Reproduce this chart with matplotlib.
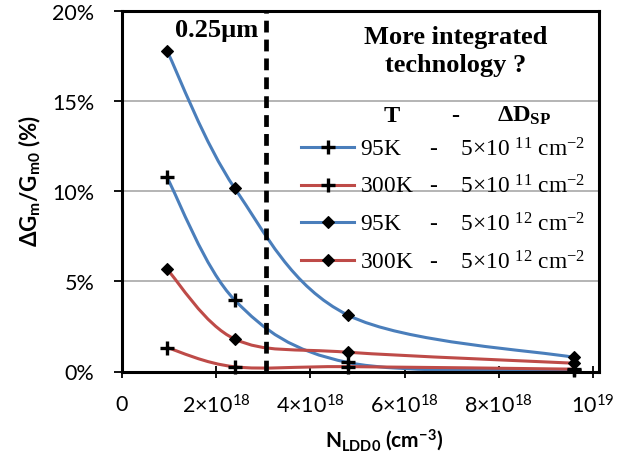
import matplotlib
matplotlib.use("Agg")
import matplotlib.pyplot as plt
from matplotlib.path import Path
from matplotlib.patches import PathPatch
from matplotlib.lines import Line2D

# LDD doping concentration (cm^-3)
n_ldd0 = [0.96e18, 2.4e18, 4.8e18, 9.6e18]

# relative transconductance degradation dGm/Gm0 (%)
dgm_95k_5e11 = [10.78, 3.96, 0.50, 0.06]
dgm_300k_5e11 = [1.33, 0.26, 0.27, 0.13]
dgm_95k_5e12 = [17.81, 10.17, 3.13, 0.78]
dgm_300k_5e12 = [5.68, 1.80, 1.07, 0.46]

temperatures = ["95K", "300K", "95K", "300K"]
densities = ["5×10 $^{11}$ cm$^{-2}$", "5×10 $^{11}$ cm$^{-2}$",
             "5×10 $^{12}$ cm$^{-2}$", "5×10 $^{12}$ cm$^{-2}$"]

x_ticks = [0, 2e18, 4e18, 6e18, 8e18, 1e19]
x_tick_labels = ["0", "2×10$^{18}$", "4×10$^{18}$", "6×10$^{18}$",
                 "8×10$^{18}$", "10$^{19}$"]
y_ticks = [0, 5, 10, 15, 20]
y_tick_labels = ["0%", "5%", "10%", "15%", "20%"]

gate_length_limit = 3.07e18   # 0.25 µm node

BLUE = "#4A7EBB"
RED = "#BE4B48"

plt.rcParams["mathtext.default"] = "regular"
SANS = "Lato"
SERIF = "Liberation Serif"

W, H = 642, 456
fig = plt.figure(figsize=(W / 100, H / 100), dpi=100)


def fx(px):
    return px / W


def fy(py):
    return 1 - py / H


ax = fig.add_axes([fx(121.7), fy(372.5), fx(598.5) - fx(121.7),
                   fy(12.3) - fy(372.5)])
ax.set_xlim(0, 1.0115e19)
ax.set_ylim(0, 20)


def smooth_path(xs, ys):
    """Cubic Bezier through the points (Catmull-Rom style tangents)."""
    pts = list(zip(xs, ys))
    n = len(pts)
    verts = [pts[0]]
    codes = [Path.MOVETO]
    for i in range(n - 1):
        p0 = pts[i - 1] if i > 0 else pts[i]
        p1 = pts[i]
        p2 = pts[i + 1]
        p3 = pts[i + 2] if i + 2 < n else pts[i + 1]
        c1 = (p1[0] + (p2[0] - p0[0]) / 6, p1[1] + (p2[1] - p0[1]) / 6)
        c2 = (p2[0] - (p3[0] - p1[0]) / 6, p2[1] - (p3[1] - p1[1]) / 6)
        verts += [c1, c2, p2]
        codes += [Path.CURVE4] * 3
    return Path(verts, codes)


series = [
    (dgm_95k_5e11, BLUE, "+"),
    (dgm_300k_5e11, RED, "+"),
    (dgm_95k_5e12, BLUE, "D"),
    (dgm_300k_5e12, RED, "D"),
]

LW = 2.2
marker_kw = {
    "+": dict(marker="+", markersize=9.5, markeredgewidth=2.4,
              markeredgecolor="black"),
    "D": dict(marker="D", markersize=6.5, markeredgewidth=0.8,
              markerfacecolor="black", markeredgecolor="black"),
}

for ys, color, mk in series:
    patch = PathPatch(smooth_path(n_ldd0, ys), facecolor="none",
                      edgecolor=color, lw=LW, zorder=3, clip_on=False,
                      capstyle="butt")
    ax.add_patch(patch)
for ys, color, mk in series:
    ax.plot(n_ldd0, ys, linestyle="none", zorder=5, clip_on=False,
            **marker_kw[mk])

# gate length marker
ax.axvline(gate_length_limit, color="black", lw=3.4,
           linestyle=(0, (2.5, 1.5)), zorder=4)

# axes styling
ax.set_xticks(x_ticks)
ax.set_xticklabels(x_tick_labels)
ax.set_yticks(y_ticks)
ax.set_yticklabels(y_tick_labels)
ax.yaxis.grid(True, color="#a0a0a0", lw=1.1)
ax.set_axisbelow(True)
for sp in ax.spines.values():
    sp.set_linewidth(2.2)
    sp.set_color("black")
    sp.set_zorder(6)
ax.tick_params(axis="y", direction="out", length=6, width=1.3,
               pad=13.5, labelsize=15.5)
ax.tick_params(axis="x", direction="inout", length=8, width=1.3,
               pad=12, labelsize=15.5)
for lbl in ax.get_xticklabels() + ax.get_yticklabels():
    lbl.set_fontfamily(SANS)

# axis titles
fig.text(fx(384), fy(440), "N$_{LDD0}$ (cm$^{-3}$)", ha="center",
         va="center", fontsize=15, fontweight="bold", family=SANS)
fig.text(fx(30), fy(181), "ΔG$_{m}$/G$_{m0}$ (%)", ha="center",
         va="center", rotation=90, fontsize=16, fontweight="bold",
         family=SANS)

# annotations
fig.text(fx(258), fy(37), "0.25µm", ha="right", va="baseline",
         fontsize=19, fontweight="bold", family=SERIF)
fig.text(fx(456), fy(44.3), "More integrated", ha="center",
         va="baseline", fontsize=19, fontweight="bold", family=SERIF)
fig.text(fx(456), fy(71.7), "technology ?", ha="center",
         va="baseline", fontsize=19, fontweight="bold", family=SERIF)
fig.text(fx(392), fy(122), "T", ha="center", va="baseline",
         fontsize=17.5, fontweight="bold", family=SERIF)
fig.text(fx(455), fy(122), "-", ha="center", va="baseline",
         fontsize=17.5, fontweight="bold", family=SERIF)
fig.text(fx(497), fy(122), "ΔD$_{SP}$", ha="left", va="baseline",
         fontsize=17.5, fontweight="bold", family=SERIF)

# legend
handles = [Line2D([], [], color=c, lw=LW, **marker_kw[m])
           for _, c, m in series]
labels = []
for t, d in zip(temperatures, densities):
    gap = "     " if len(t) == 3 else "   "
    labels.append(t + gap + "-    " + d)
leg = ax.legend(handles, labels, loc="upper left",
                bbox_to_anchor=(fx(300.7), fy(138)),
                bbox_transform=fig.transFigure, frameon=False,
                borderpad=0, borderaxespad=0, handlelength=2.3,
                handletextpad=0.25, labelspacing=0.62,
                prop=dict(family=SERIF, size=16.8))

fig.savefig("out.png", dpi=100)
